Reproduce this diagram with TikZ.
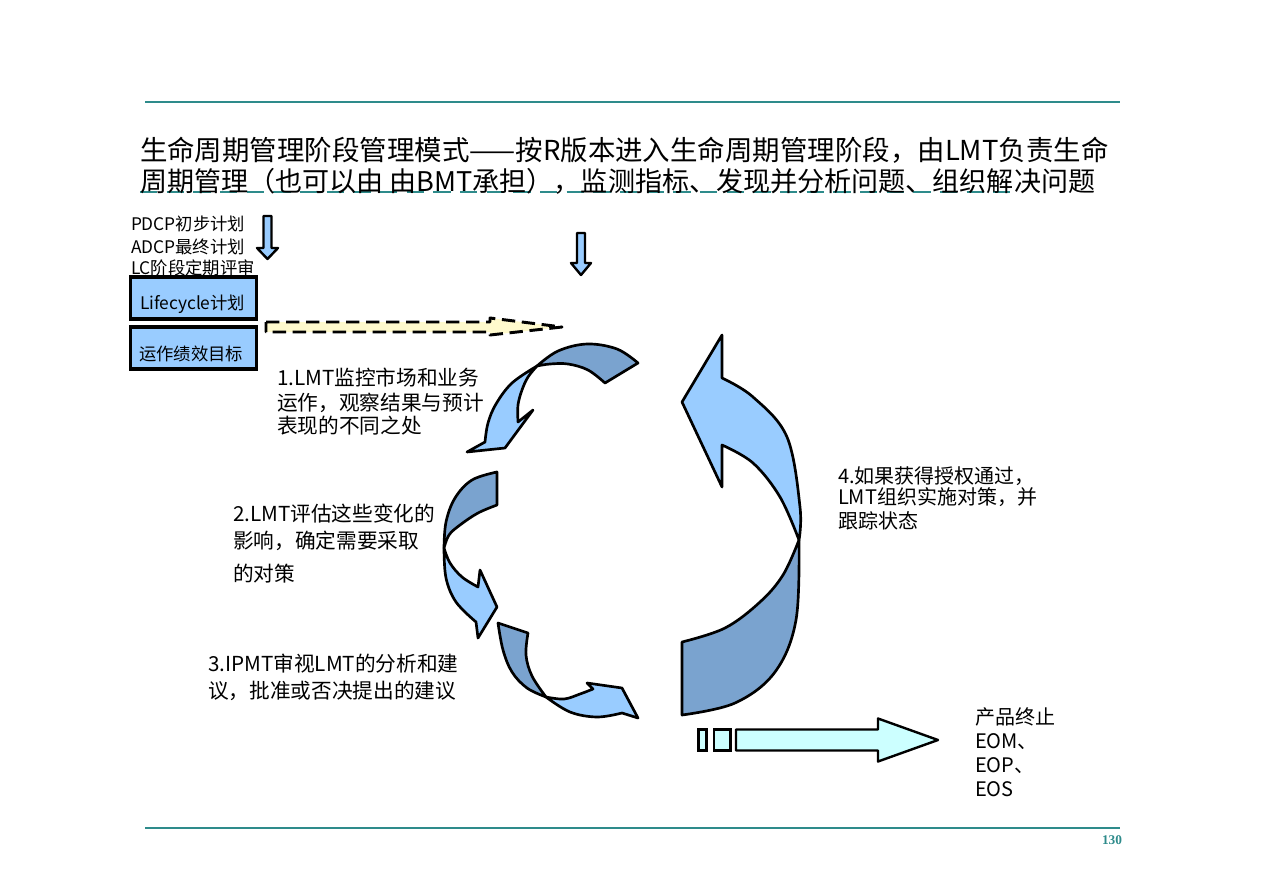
\documentclass[tikz,border=0pt]{standalone}
\usepackage{fontspec}
\setmainfont{Noto Sans CJK SC}
\newfontfamily\numfont{Liberation Serif}
\definecolor{rule}{RGB}{46,139,139}
\definecolor{lb}{RGB}{153,204,255}
\definecolor{db}{RGB}{122,163,207}
\definecolor{ly}{RGB}{255,250,205}
\definecolor{lc}{RGB}{204,255,255}
\begin{document}
\begin{tikzpicture}[x=0.75pt,y=-0.75pt,
  txt/.style={anchor=base west, inner sep=0pt, outer sep=0pt},
  ttl/.style={txt, font=\fontsize{20.6pt}{24pt}\selectfont},
  ttlb/.style={txt, font=\fontsize{20.3pt}{24pt}\selectfont},
  sml/.style={txt, font=\fontsize{13pt}{16pt}\selectfont},
  lbl/.style={txt, font=\fontsize{15.5pt}{18pt}\selectfont},
  lbls/.style={txt, font=\fontsize{15pt}{18pt}\selectfont},
  arrL/.style={draw=black, line width=2pt, line join=round, fill=lb},
  arrD/.style={draw=black, line width=2pt, line join=round, fill=db},
  boxst/.style={draw=black, line width=2.4pt, fill=lb, minimum width=95pt, minimum height=31.5pt, inner sep=0pt},
  hrule/.style={draw=rule, line width=0.9pt}
]
\useasboundingbox (0,0) rectangle (1263,892);
\fill[white] (0,0) rectangle (1263,892);

% rules
\coordinate (r1a) at (145,102); \coordinate (r1b) at (1120,102);
\coordinate (r2a) at (145,828); \coordinate (r2b) at (1120,828);
\draw[hrule] (r1a) -- (r1b);
\draw[hrule] (r2a) -- (r2b);
\node[anchor=center, inner sep=0pt, text=rule, font=\numfont\bfseries\fontsize{10pt}{12pt}\selectfont] (pg) at (1112,840) {130};

% title
\coordinate (ul1) at (140,192); \coordinate (ul2) at (1010,192);
\draw[draw=rule, line width=2.2pt, dash pattern=on 13pt off 7pt] (ul1) -- (ul2);
\node[ttl] (t1) at (140,160) {生命周期管理阶段管理模式——按R版本进入生命周期管理阶段，由LMT负责生命};
\node[ttlb] (t2) at (140,191) {周期管理（也可以由 由BMT承担），监测指标、发现并分析问题、组织解决问题};

% top-left list
\node[sml] (p1) at (131,230) {PDCP初步计划};
\node[sml] (p2) at (131,253) {ADCP最终计划};
\node[sml] (p3) at (131,274.5) {LC阶段定期评审};

% small down arrows
\draw[arrL, line width=1.8pt] (263.5,216) -- (271.5,216) -- (271.5,248) -- (278,248) -- (267.5,259) -- (257,248) -- (263.5,248) -- cycle;
\draw[arrL, line width=1.8pt] (577,233) -- (585,233) -- (585,263) -- (591,263) -- (581,275) -- (571,263) -- (577,263) -- cycle;

% boxes
\node[boxst] (b1) at (193.5,298) {};
\node[boxst] (b2) at (193.5,348) {};
\node[sml] (b1t) at (140,309.5) {Lifecycle计划};
\node[sml] (b2t) at (139,360.5) {运作绩效目标};

% dashed arrow
\draw[black, line width=2.2pt, fill=ly, dash pattern=on 10pt off 5pt, line join=round]
  (266,322) -- (490,322) -- (490,318) -- (562,327) -- (490,335) -- (490,332) -- (266,332) -- cycle;

% curved arrow 1
\path[arrD] plot[smooth,tension=0.6] coordinates {(537,366) (558,351) (587,344) (617,349) (638,363)}
  -- (605,383) -- plot[smooth,tension=0.6] coordinates {(605,383) (588,370) (568,364) (550,364) (537,366)} -- cycle;
\path[arrL] plot[smooth,tension=0.6] coordinates {(537,366) (512,383) (496,404) (488,423) (485,442)}
  -- (467,452) -- (505,448) -- (533,410) -- (518,422)
  -- plot[smooth,tension=0.6] coordinates {(518,422) (518,405) (522,390) (528,377) (537,366)} -- cycle;

% curved arrow 2
\path[arrD] plot[smooth,tension=0.6] coordinates {(497,472) (472,480) (455,498) (446,522) (444,548)}
  -- plot[smooth,tension=0.6] coordinates {(444,548) (449,535) (460,525) (478,513) (497,505)} -- cycle;
\path[arrL] plot[smooth,tension=0.6] coordinates {(444,548) (446,578) (456,602) (476,622)}
  -- (478,638) -- (497,607) -- (480,570) -- (478,587)
  -- plot[smooth,tension=0.6] coordinates {(478,587) (462,577) (450,563) (444,548)} -- cycle;

% curved arrow 3
\path[arrD] (498,623) -- (528,633)
  -- plot[smooth,tension=0.6] coordinates {(528,633) (526,655) (532,676) (546,697)}
  -- plot[smooth,tension=0.6] coordinates {(546,697) (527,688) (512,672) (503,650) (498,623)} -- cycle;
\path[arrL] plot[smooth,tension=0.6] coordinates {(546,697) (564,699) (580,694) (593,689)}
  -- (587,683) -- (622,688) -- (638,718) -- (622,713)
  -- plot[smooth,tension=0.6] coordinates {(622,713) (597,717) (570,712) (546,697)} -- cycle;

% big arrow 4
\path[arrD] (682,642) -- (682,715)
  -- plot[smooth,tension=0.6] coordinates {(682,715) (735,703) (775,672) (796,620) (799,540)}
  -- plot[smooth,tension=0.6] coordinates {(799,540) (783,575) (760,602) (725,628) (682,642)} -- cycle;
\path[arrL] plot[smooth,tension=0.6] coordinates {(799,540) (800,507) (787,437) (753,397) (722,378)}
  -- (722,335) -- (682,402) -- (722,487) -- (722,445)
  -- plot[smooth,tension=0.6] coordinates {(722,445) (753,463) (780,497) (799,540)} -- cycle;

% labels
\node[lbl] (l1a) at (277,385) {1.LMT监控市场和业务};
\node[lbl] (l1b) at (277,410) {运作，观察结果与预计};
\node[lbl] (l1c) at (277,433) {表现的不同之处};
\node[lbl] (l2a) at (233,521) {2.LMT评估这些变化的};
\node[lbl] (l2b) at (233,548) {影响，确定需要采取};
\node[lbl] (l2c) at (233,581) {的对策};
\node[lbl] (l3a) at (208,671) {3.IPMT审视LMT的分析和建};
\node[lbl] (l3b) at (208,698) {议，批准或否决提出的建议};
\node[lbls] (l4a) at (838,483.5) {4.如果获得授权通过，};
\node[lbls] (l4b) at (838,504.5) {LMT组织实施对策，并};
\node[lbls] (l4c) at (838,528.5) {跟踪状态};

% bottom arrow
\draw[black, line width=1.8pt, fill=lc] (698.5,729.5) rectangle (706.5,750.5);
\draw[black, line width=1.8pt, fill=lc] (714,729.5) rectangle (730.5,750.5);
\draw[black, line width=1.8pt, fill=lc, line join=round]
  (736,729.5) -- (878,729.5) -- (878,718.5) -- (938,740) -- (878,761.5) -- (878,750.5) -- (736,750.5) -- cycle;

\node[lbls] (e1) at (975,724) {产品终止};
\node[lbls] (e2) at (975,748) {EOM、};
\node[lbls] (e3) at (975,772) {EOP、};
\node[lbls] (e4) at (975,796) {EOS};
\end{tikzpicture}
\end{document}
